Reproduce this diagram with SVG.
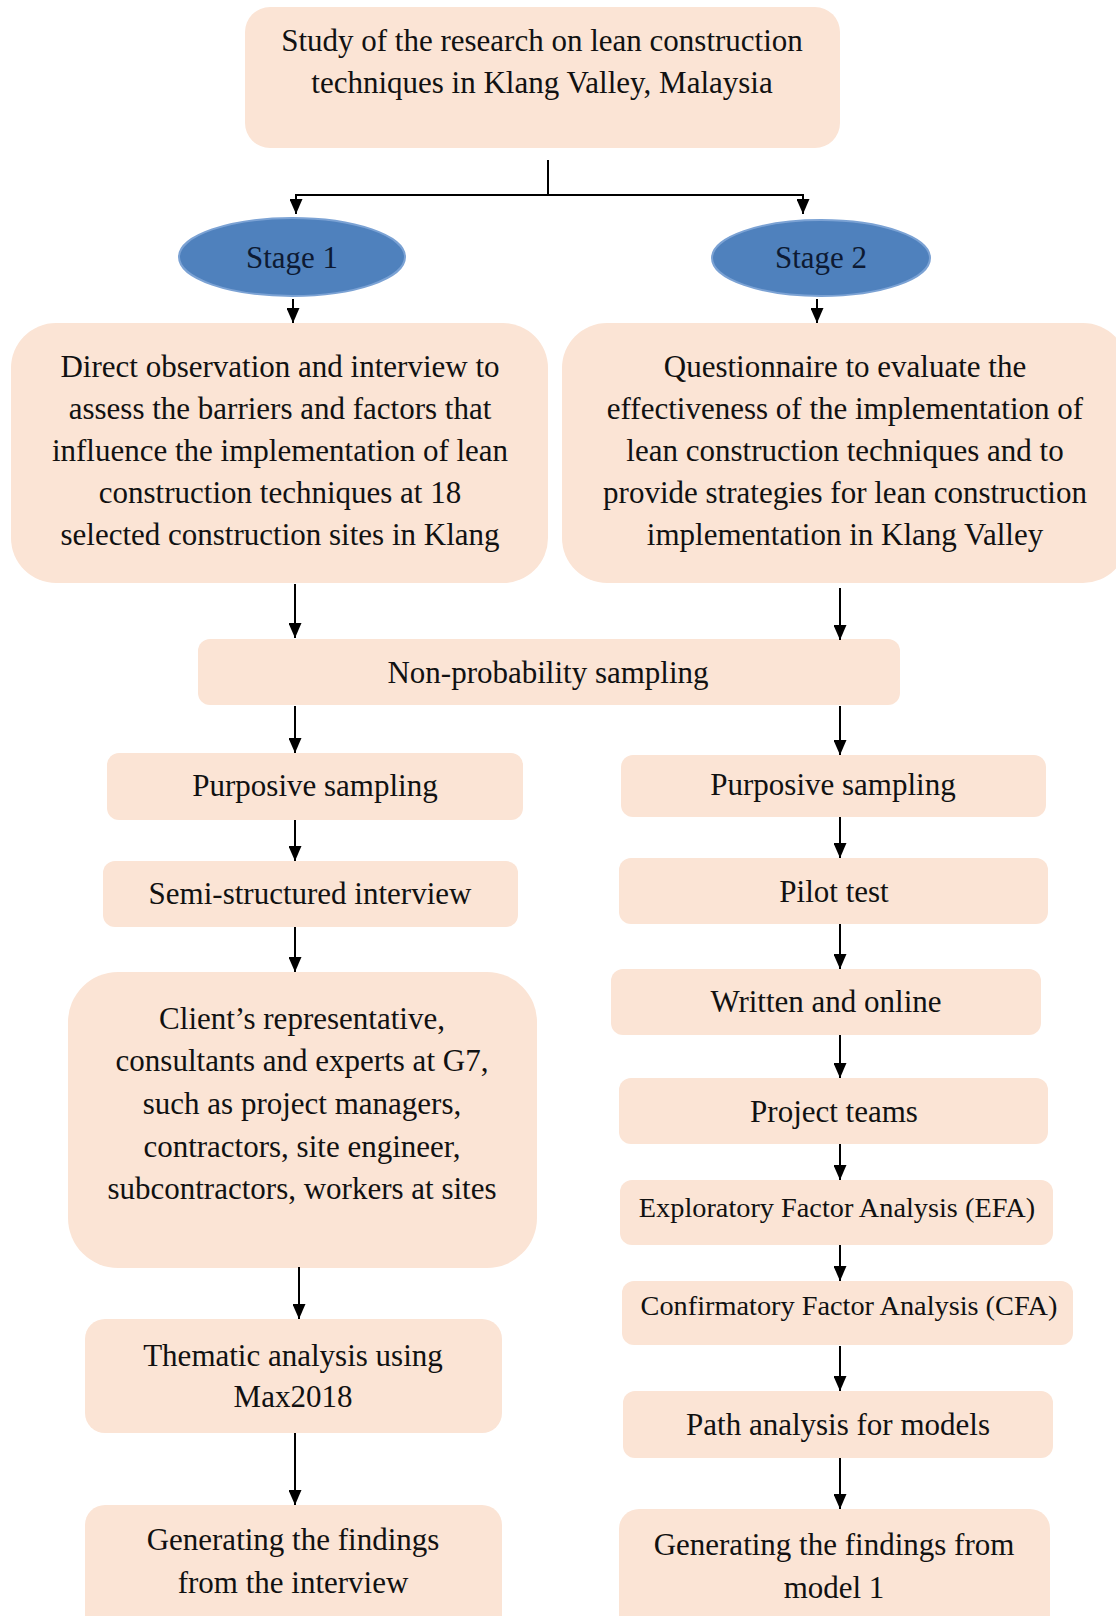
<svg xmlns="http://www.w3.org/2000/svg" width="1116" height="1616" viewBox="0 0 1116 1616">
<defs>
<style>
.box{fill:#FBE4D5;}
.stage{fill:#4F81BD;stroke:#7BA2D4;stroke-width:2;}
text{font-family:"Liberation Serif","Times New Roman",serif;font-size:31px;fill:#111;text-anchor:middle;}
.st{fill:#0d1a33;}
.sm{font-size:28.3px;}
.conn path{fill:none;stroke:#000;stroke-width:2;}
</style>
<marker id="ah" viewBox="0 0 15 13" refX="15" refY="6.5" markerWidth="15" markerHeight="13" markerUnits="userSpaceOnUse" orient="auto">
<path d="M0,0 L15,6.5 L0,13 z" fill="#000"/>
</marker>
</defs>
<rect width="1116" height="1616" fill="#fff"/>

<g id="top"><rect class="box" x="245" y="7" width="595" height="141" rx="25"/>
<text x="542" y="51">Study of the research on lean construction</text>
<text x="542" y="93">techniques in Klang Valley, Malaysia</text></g>

<g id="stage1"><ellipse class="stage" cx="292" cy="257" rx="113" ry="39"/><text class="st" x="292" y="268">Stage 1</text></g>
<g id="stage2"><ellipse class="stage" cx="821" cy="258" rx="109" ry="38"/><text class="st" x="821" y="268">Stage 2</text></g>

<g id="box1"><rect class="box" x="11" y="323" width="537" height="260" rx="45"/>
<text x="280" y="377">Direct observation and interview to</text>
<text x="280" y="419">assess the barriers and factors that</text>
<text x="280" y="461">influence the implementation of lean</text>
<text x="280" y="503">construction techniques at 18</text>
<text x="280" y="545">selected construction sites in Klang</text></g>

<g id="box2"><rect class="box" x="562" y="323" width="566" height="260" rx="45"/>
<text x="845" y="377">Questionnaire to evaluate the</text>
<text x="845" y="419">effectiveness of the implementation of</text>
<text x="845" y="461">lean construction techniques and to</text>
<text x="845" y="503">provide strategies for lean construction</text>
<text x="845" y="545">implementation in Klang Valley</text></g>

<g id="nonprob"><rect class="box" x="198" y="639" width="702" height="66" rx="12"/><text x="548" y="683">Non-probability sampling</text></g>

<g id="lpurp"><rect class="box" x="107" y="753" width="416" height="67" rx="12"/><text x="315" y="796">Purposive sampling</text></g>
<g id="semi"><rect class="box" x="103" y="861" width="415" height="66" rx="12"/><text x="310" y="904">Semi-structured interview</text></g>
<g id="client"><rect class="box" x="68" y="972" width="469" height="296" rx="50"/>
<text x="302" y="1029">Client’s representative,</text>
<text x="302" y="1071">consultants and experts at G7,</text>
<text x="302" y="1114">such as project managers,</text>
<text x="302" y="1157">contractors, site engineer,</text>
<text x="302" y="1199">subcontractors, workers at sites</text></g>
<g id="thematic"><rect class="box" x="85" y="1319" width="417" height="114" rx="20"/>
<text x="293" y="1366">Thematic analysis using</text>
<text x="293" y="1407">Max2018</text></g>
<g id="genint"><rect class="box" x="85" y="1505" width="417" height="130" rx="20"/>
<text x="293" y="1550">Generating the findings</text>
<text x="293" y="1593">from the interview</text></g>

<g id="rpurp"><rect class="box" x="621" y="755" width="425" height="62" rx="12"/><text x="833" y="795">Purposive sampling</text></g>
<g id="pilot"><rect class="box" x="619" y="858" width="429" height="66" rx="12"/><text x="834" y="902">Pilot test</text></g>
<g id="written"><rect class="box" x="611" y="969" width="430" height="66" rx="12"/><text x="826" y="1012">Written and online</text></g>
<g id="project"><rect class="box" x="619" y="1078" width="429" height="66" rx="12"/><text x="834" y="1122">Project teams</text></g>
<g id="efa"><rect class="box" x="620" y="1180" width="433" height="65" rx="12"/><text class="sm" x="837" y="1217">Exploratory Factor Analysis (EFA)</text></g>
<g id="cfa"><rect class="box" x="622" y="1281" width="451" height="64" rx="12"/><text class="sm" x="849" y="1315">Confirmatory Factor Analysis (CFA)</text></g>
<g id="path"><rect class="box" x="623" y="1391" width="430" height="67" rx="12"/><text x="838" y="1435">Path analysis for models</text></g>
<g id="genmodel"><rect class="box" x="619" y="1509" width="431" height="130" rx="20"/>
<text x="834" y="1555">Generating the findings from</text>
<text x="834" y="1598">model 1</text></g>

<g id="connectors" class="conn">
<path d="M548,160 V195 H296 V214" marker-end="url(#ah)"/>
<path d="M548,195 H803 V214" marker-end="url(#ah)"/>
<path d="M293,299 V323" marker-end="url(#ah)"/>
<path d="M817,299 V323" marker-end="url(#ah)"/>
<path d="M295,584 V638" marker-end="url(#ah)"/>
<path d="M840,588 V640" marker-end="url(#ah)"/>
<path d="M295,706 V753" marker-end="url(#ah)"/>
<path d="M840,706 V755" marker-end="url(#ah)"/>
<path d="M295,820 V861" marker-end="url(#ah)"/>
<path d="M840,817 V858" marker-end="url(#ah)"/>
<path d="M295,927 V972" marker-end="url(#ah)"/>
<path d="M840,924 V969" marker-end="url(#ah)"/>
<path d="M840,1035 V1078" marker-end="url(#ah)"/>
<path d="M840,1144 V1180" marker-end="url(#ah)"/>
<path d="M840,1245 V1281" marker-end="url(#ah)"/>
<path d="M840,1346 V1391" marker-end="url(#ah)"/>
<path d="M840,1458 V1509" marker-end="url(#ah)"/>
<path d="M299,1267 V1319" marker-end="url(#ah)"/>
<path d="M295,1433 V1505" marker-end="url(#ah)"/>
</g>
</svg>
